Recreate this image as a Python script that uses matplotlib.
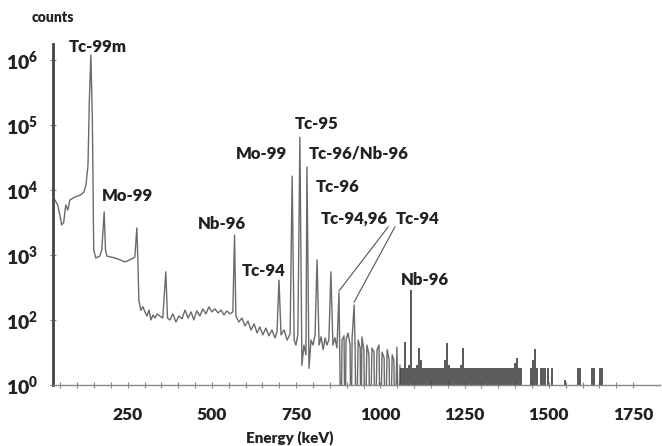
import matplotlib
matplotlib.use('Agg')
import matplotlib.pyplot as plt

plt.rcParams['font.family'] = ['Lato', 'DejaVu Sans']
plt.rcParams['mathtext.fontset'] = 'custom'
plt.rcParams['mathtext.rm'] = 'Lato'
plt.rcParams['mathtext.bf'] = 'Lato:weight=heavy'

# spectrum trace (keV, counts)
spec_energy = [34, 42, 48, 54, 60, 66, 72, 78, 93, 108, 120, 126, 132, 136, 140.5, 145, 149, 155,
               167, 173, 180, 184, 188, 212, 227, 242, 256, 271, 277, 280, 283, 289, 295, 301, 307,
               313, 319, 325, 331, 337, 345, 354, 363, 368, 375, 384, 393, 402, 411, 420, 429, 438,
               446, 455, 464, 473, 482, 491, 500, 509, 518, 527, 536, 544, 553, 562, 567, 571, 580,
               589, 598, 607, 616, 625, 634, 642, 651, 660, 669, 678, 687, 693, 699, 705, 714, 723,
               732, 738, 744, 749, 755, 761, 767, 773, 779, 782, 788, 794, 800, 806, 812, 818, 824,
               830, 836, 841, 847, 853, 859, 865, 871, 877, 883, 886, 892, 895, 898, 904, 910, 913,
               916, 922, 925, 928, 934, 940, 942, 945, 951, 954, 960, 966, 969, 975, 981, 984, 990,
               996, 999, 1005, 1011, 1014, 1020, 1026, 1029, 1035, 1040, 1043, 1049, 1055, 1058]
spec_counts = [7000, 5900, 4200, 2900, 3200, 5900, 4900, 7000, 7800, 8300, 9300, 12000, 24000, 240000,
               1200000, 120000, 1200, 900, 960, 1200, 4600, 1200, 960, 900, 840, 780, 840, 930, 2600,
               840, 200, 140, 160, 133, 115, 142, 100, 119, 107, 124, 115, 107, 550, 107, 100, 124,
               93, 115, 104, 142, 107, 133, 100, 138, 115, 148, 124, 159, 133, 148, 128, 142, 119,
               138, 124, 133, 2030, 115, 93, 107, 81, 96, 70, 87, 63, 78, 59, 75, 57, 70, 53, 65,
               410, 59, 70, 49, 61, 16400, 49, 41, 59, 65000, 20, 41, 29, 22600, 18, 49, 41, 59, 840,
               41, 55, 35, 53, 41, 49, 550, 41, 53, 37, 260, 1, 49, 57, 1, 49, 63, 41, 1, 53, 170,
               35, 1, 49, 37, 1, 55, 35, 1, 41, 29, 1, 37, 32, 1, 35, 41, 1, 32, 26, 1, 35, 24, 1,
               29, 24, 1, 38, 1, 20]

# dense high-energy channels drawn as bars
bar_energy = [1061, 1067, 1073, 1079, 1085, 1091, 1097, 1103, 1109, 1115, 1121, 1127, 1132, 1138,
              1144, 1150, 1156, 1162, 1168, 1174, 1180, 1186, 1192, 1198, 1204, 1210, 1216, 1222,
              1228, 1234, 1239, 1245, 1251, 1257, 1263, 1269, 1275, 1281, 1287, 1293, 1299, 1305,
              1311, 1317, 1323, 1329, 1334, 1340, 1346, 1352, 1358, 1364, 1370, 1376, 1382, 1388,
              1394, 1400, 1406, 1412, 1418, 1447, 1453, 1459, 1465, 1477, 1483, 1489, 1498, 1510,
              1548, 1587, 1593, 1628, 1634, 1652, 1658]
bar_counts = [18, 18, 46, 18, 20, 290, 18, 18, 20, 37, 24, 18, 18, 18, 18, 18, 18, 18, 18, 18, 18,
              18, 24, 44, 20, 18, 18, 18, 18, 18, 20, 37, 18, 18, 18, 18, 18, 18, 18, 18, 18, 18,
              18, 18, 18, 18, 18, 18, 18, 18, 18, 18, 18, 18, 18, 18, 18, 22, 26, 18, 18, 18, 24,
              36, 18, 18, 18, 18, 18, 18, 12, 18, 18, 18, 18, 18, 18]

x_ticks = [250, 500, 750, 1000, 1250, 1500, 1750]
y_ticks = [1e1, 1e2, 1e3, 1e4, 1e5, 1e6]
y_tick_labels = [r'$\mathbf{10^{0}}$', r'$\mathbf{10^{2}}$', r'$\mathbf{10^{3}}$',
                 r'$\mathbf{10^{4}}$', r'$\mathbf{10^{5}}$', r'$\mathbf{10^{6}}$']

peak_labels = ['Tc-99m', 'Mo-99', 'Nb-96', 'Tc-94', 'Mo-99', 'Tc-95', 'Tc-96/Nb-96',
               'Tc-96', 'Tc-94,96', 'Tc-94', 'Nb-96']
label_energy = [161, 250, 530, 654, 648, 812, 937, 874, 922, 1109, 1133]
label_counts = [1.58e6, 8100, 3000, 570, 35800, 103500, 37000, 11100, 3580, 3580, 412]

fig, ax = plt.subplots(figsize=(6.62, 4.46), dpi=100)
fig.subplots_adjust(left=0.080, right=0.997, bottom=0.137, top=0.901)

ax.plot(spec_energy, spec_counts, color='#6a6a6a', lw=1.0)
ax.vlines(bar_energy, 1, bar_counts, color='#333333', lw=1.15)

ax.set_yscale('log')
ax.set_xlim(28, 1830)
ax.set_ylim(10, 1.76e6)

ax.set_xticks(x_ticks)
ax.set_xticklabels([str(t) for t in x_ticks], fontsize=12.5, fontweight='heavy', color='#222222')
ax.set_xticks(list(range(50, 1800, 50)), minor=True)
ax.set_yticks(y_ticks)
ax.set_yticklabels(y_tick_labels, fontsize=14, color='#222222')
ax.yaxis.set_minor_locator(matplotlib.ticker.NullLocator())
ax.tick_params(axis='x', which='both', direction='inout', length=4, width=0.8,
               color='#888888', pad=14)
ax.tick_params(axis='y', which='major', direction='inout', length=5, width=0.8,
               color='#888888', pad=8)

for s in ['top', 'right']:
    ax.spines[s].set_visible(False)
ax.spines['left'].set_color('#444444')
ax.spines['left'].set_linewidth(2)
ax.spines['bottom'].set_color('#888888')
ax.spines['bottom'].set_linewidth(1)

ax.set_xlabel('Energy (keV)', fontsize=11, fontweight='heavy', color='#222222')
ax.xaxis.set_label_coords(0.39, -0.135)
fig.text(0.08, 0.96, 'counts', fontsize=10, fontweight='heavy', color='#222222', ha='center', va='center')

for txt, e, c in zip(peak_labels, label_energy, label_counts):
    ax.text(e, c, txt, fontsize=12, fontweight='heavy', color='#222222', ha='center', va='center')

# leader lines for the Tc-94,96 and Tc-94 labels
ax.plot([1023, 877], [2700, 279], color='#555555', lw=0.8)
ax.plot([1043, 922], [2700, 189], color='#555555', lw=0.8)

fig.savefig('out.png', dpi=100)
